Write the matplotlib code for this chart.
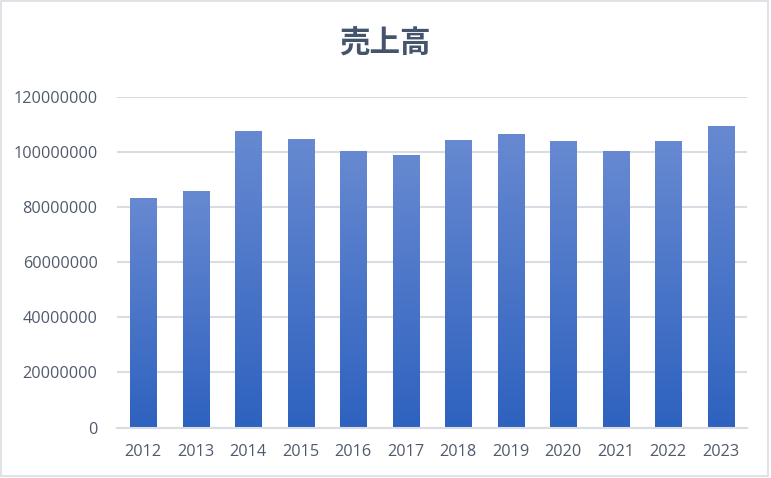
import numpy as np
import matplotlib.pyplot as plt
from matplotlib.colors import LinearSegmentedColormap
from matplotlib.patches import Rectangle

years = ['2012', '2013', '2014', '2015', '2016', '2017',
         '2018', '2019', '2020', '2021', '2022', '2023']
sales = [83500000, 86000000, 107800000, 104900000, 100500000, 99100000,
         104500000, 106700000, 104200000, 100500000, 104200000, 109600000]
yticks = [0, 20000000, 40000000, 60000000, 80000000, 100000000, 120000000]

text_col = '#505a6c'
grid_col = '#d9dde3'

fig = plt.figure(figsize=(7.71, 4.78), dpi=100)
ax = fig.add_axes([117 / 771, 1 - 427.5 / 478, 630 / 771, 330.2 / 478])

x = np.arange(len(years))
bars = ax.bar(x, sales, width=0.5, color='none', zorder=2)

# vertical gradient in each bar: lighter top, darker bottom
cmap = LinearSegmentedColormap.from_list('grad', ['#2e62bf', '#6789d1'])
grad = np.linspace(0, 1, 256).reshape(-1, 1)
for b in bars:
    x0, w, h = b.get_x(), b.get_width(), b.get_height()
    ax.imshow(grad, extent=[x0, x0 + w, 0, h], origin='lower',
              aspect='auto', cmap=cmap, zorder=2)

ax.set_xlim(-0.5, len(years) - 0.5)
ax.set_ylim(0, 120000000)
ax.set_yticks(yticks)
ax.set_yticklabels([str(v) for v in yticks])
ax.set_xticks(x)
ax.set_xticklabels(years)

ax.grid(axis='y', color=grid_col, linewidth=1.5, zorder=0)
ax.set_axisbelow(True)
for s in ['top', 'right', 'left']:
    ax.spines[s].set_visible(False)
ax.spines['bottom'].set_color(grid_col)
ax.spines['bottom'].set_linewidth(1.5)
ax.tick_params(length=0, labelcolor=text_col, labelsize=11.7)
ax.tick_params(axis='y', pad=14)
ax.tick_params(axis='x', pad=12)
for lab in ax.get_xticklabels() + ax.get_yticklabels():
    lab.set_family('Open Sans')

fig.text(385 / 771, 1 - 44 / 478, '売上高', ha='center', va='center',
         fontsize=22, fontweight='bold', color='#44546a',
         family=['Noto Sans CJK JP', 'DejaVu Sans'])

# chart area border
fig.patches.append(Rectangle((1 / 771, 2 / 478), 767 / 771, 475 / 478,
                             transform=fig.transFigure, fill=False,
                             edgecolor=grid_col, linewidth=1.2))

fig.savefig('out.png', dpi=100, facecolor='white')
